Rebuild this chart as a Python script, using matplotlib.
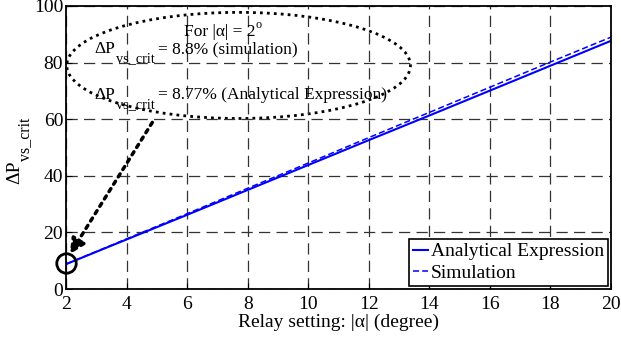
import matplotlib
matplotlib.use("Agg")
import matplotlib.pyplot as plt
from matplotlib.patches import Ellipse
from matplotlib import transforms

plt.rcParams['font.family'] = ['Liberation Serif', 'DejaVu Serif']

alpha = [2, 4, 6, 8, 10, 12, 14, 16, 18, 20]
analytical = [8.77, 17.5, 26.2, 35.0, 43.8, 52.6, 61.3, 70.1, 78.9, 87.7]
simulation = [8.8, 17.7, 26.6, 35.6, 44.5, 53.5, 62.4, 71.3, 80.2, 89.0]
xticks = [2, 4, 6, 8, 10, 12, 14, 16, 18, 20]
yticks = [0, 20, 40, 60, 80, 100]

fig = plt.figure(figsize=(6.21, 3.37), dpi=100)
ax = fig.add_axes([66/621, 1-289/337, 545/621, 283/337])

ax.plot(alpha, analytical, color='#0000ff', lw=1.5, label='Analytical Expression')
ax.plot(alpha, simulation, color='#0000ff', lw=1.1, ls=(0, (4, 2)), label='Simulation')

ax.set_xlim(2, 20)
ax.set_ylim(0, 100)
ax.set_xticks(xticks)
ax.set_yticks(yticks)
ax.tick_params(direction='in', labelsize=14, length=4)
ax.tick_params(axis='x', pad=5)
ax.tick_params(axis='y', pad=2)
ax.grid(True, color='#333333', ls=(0, (9, 5)), lw=0.9)
for s in ax.spines.values():
    s.set_linewidth(1.3)

ax.set_xlabel('Relay setting: |α| (degree)', fontsize=14, labelpad=0.5)

fig.canvas.draw()
renderer = fig.canvas.get_renderer()


def sub_text(x, y, main, sub, rest, size, coords, rotation=0, drop_frac=0.55, sub_frac=0.82):
    """Draw main text, a shifted sub/superscript and the rest, piece by piece."""
    t1 = ax.text(x, y, main, fontsize=size, ha='left', va='baseline',
                 transform=coords, rotation=rotation)
    w1 = t1.get_window_extent(renderer)
    ext1 = w1.height if rotation else w1.width
    drop = size * drop_frac * 100 / 72
    if rotation:
        tr2 = transforms.offset_copy(coords, fig=fig, x=drop, y=ext1, units='dots')
    else:
        tr2 = transforms.offset_copy(coords, fig=fig, x=ext1, y=-drop, units='dots')
    t2 = ax.text(x, y, sub, fontsize=size * sub_frac, ha='left', va='baseline',
                 transform=tr2, rotation=rotation)
    w2 = t2.get_window_extent(renderer)
    ext2 = w2.height if rotation else w2.width
    if rest:
        tr3 = transforms.offset_copy(coords, fig=fig, x=ext1 + ext2 + 4, y=0, units='dots')
        ax.text(x, y, rest, fontsize=size, ha='left', va='baseline', transform=tr3)


# y label
sub_text(-0.11, 0.385, 'ΔP', 'vs_crit', '', 14, ax.transAxes, rotation=90)

ax.add_patch(Ellipse((7.7, 79), 11.35, 37.5, fill=False, ls=(0, (1, 1.5)), lw=2,
                     color='black', clip_on=False))
sub_text(5.9, 89.5, 'For |α| = 2', 'o', '', 12.5, ax.transData, drop_frac=-0.42, sub_frac=0.7)
sub_text(2.95, 83.4, 'ΔP', 'vs_crit', '= 8.8% (simulation)', 12.5, ax.transData)
sub_text(2.95, 67.3, 'ΔP', 'vs_crit', '= 8.77% (Analytical Expression)', 12.5, ax.transData)

ax.annotate('', xy=(2.08, 11.5), xytext=(4.9, 59.7),
            arrowprops=dict(arrowstyle='-|>,head_length=0.9,head_width=0.45',
                            ls=(0, (1, 1.5)), lw=2.5, color='black'))
ax.plot([2], [9.2], marker='o', ms=14, mfc='none', mec='black', mew=2, clip_on=False)

leg = ax.legend(loc='lower right', fontsize=14, handlelength=0.8, handletextpad=0.15,
                borderpad=0.2, labelspacing=0.22, fancybox=False, edgecolor='black',
                framealpha=1, borderaxespad=0.15)
leg.get_frame().set_linewidth(1.2)

fig.savefig('out.png', dpi=100)
